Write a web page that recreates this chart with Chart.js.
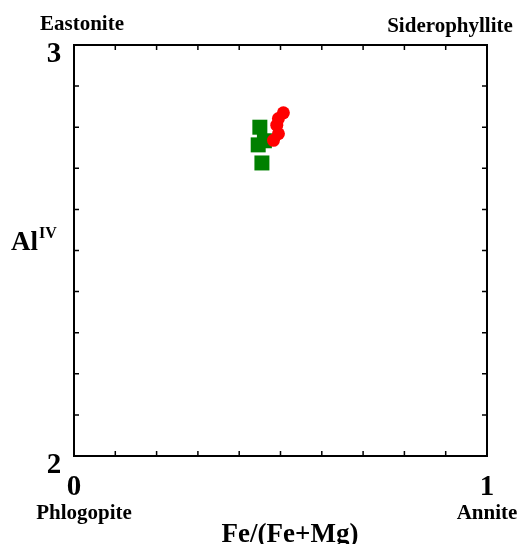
<!DOCTYPE html>
<html>
<head>
<meta charset="utf-8">
<script src="https://cdn.jsdelivr.net/npm/chart.js@4/dist/chart.umd.min.js"></script>
<style>
    html, body { margin: 0; padding: 0; background: #fff; }
    #wrap { width: 523px; height: 544px; }
</style>
</head>
<body>
<div id="wrap"><canvas id="chart" width="523" height="544"></canvas></div>
<script>
// Biotite classification data
const redFeRatio = [0.507, 0.495, 0.491, 0.495, 0.483];
const redAlIV = [2.835, 2.821, 2.805, 2.784, 2.768];
const greenFeRatio = [0.450, 0.446, 0.455, 0.461];
const greenAlIV = [2.800, 2.757, 2.713, 2.767];

const xTickValues = [0, 0.1, 0.2, 0.3, 0.4, 0.5, 0.6, 0.7, 0.8, 0.9, 1];
const yTickValues = [2, 2.1, 2.2, 2.3, 2.4, 2.5, 2.6, 2.7, 2.8, 2.9, 3];

const serif = '"Liberation Serif", "Times New Roman", serif';

// Inward tick marks, end labels and corner names
const decorPlugin = {
    id: 'decor',
    afterDraw(chart) {
        const ctx = chart.ctx;
        const xs = chart.scales.x, ys = chart.scales.y;
        const a = chart.chartArea;
        ctx.save();
        ctx.strokeStyle = '#000';
        ctx.lineWidth = 1.5;
        const len = 5;
        xTickValues.slice(1, -1).forEach(v => {
            const px = xs.getPixelForValue(v);
            ctx.beginPath();
            ctx.moveTo(px, a.top); ctx.lineTo(px, a.top + len);
            ctx.moveTo(px, a.bottom); ctx.lineTo(px, a.bottom - len);
            ctx.stroke();
        });
        yTickValues.slice(1, -1).forEach(v => {
            const py = ys.getPixelForValue(v);
            ctx.beginPath();
            ctx.moveTo(a.left, py); ctx.lineTo(a.left + len, py);
            ctx.moveTo(a.right, py); ctx.lineTo(a.right - len, py);
            ctx.stroke();
        });

        ctx.fillStyle = '#000';
        ctx.textAlign = 'center';
        ctx.textBaseline = 'alphabetic';

        // end values
        ctx.font = 'bold 29px ' + serif;
        ctx.fillText('3', 54, ys.getPixelForValue(3) + 17);
        ctx.fillText('2', 54, ys.getPixelForValue(2) + 17);
        ctx.fillText('0', xs.getPixelForValue(0), 495);
        ctx.fillText('1', xs.getPixelForValue(1), 495);

        // end-member names
        ctx.font = 'bold 21px ' + serif;
        ctx.fillText('Eastonite', 82, 30);
        ctx.fillText('Siderophyllite', 450, 32);
        ctx.fillText('Phlogopite', 84, 519);
        ctx.fillText('Annite', 487, 519);

        // axis titles
        ctx.font = 'bold 27px ' + serif;
        ctx.fillText('Fe/(Fe+Mg)', 290, 542);
        ctx.textAlign = 'left';
        ctx.font = 'bold 27px ' + serif;
        ctx.fillText('Al', 11, 250);
        const w = ctx.measureText('Al').width;
        ctx.font = 'bold 16px ' + serif;
        ctx.fillText('IV', 11 + w + 1, 238);
        ctx.restore();
    }
};

const hiddenAxis = (extra) => Object.assign({
    display: true,
    grid: { display: false, drawTicks: false },
    border: { display: true, color: '#000', width: 2 },
    ticks: { display: false }
}, extra);

new Chart(document.getElementById('chart'), {
    type: 'scatter',
    data: {
        datasets: [
            {
                label: 'red',
                data: redFeRatio.map((x, i) => ({ x, y: redAlIV[i] })),
                pointStyle: 'circle',
                pointRadius: 6.5,
                backgroundColor: '#ff0000',
                borderColor: '#ff0000',
                borderWidth: 0
            },
            {
                label: 'green',
                data: greenFeRatio.map((x, i) => ({ x, y: greenAlIV[i] })),
                pointStyle: 'rect',
                pointRadius: 10.6,
                backgroundColor: '#008000',
                borderColor: '#008000',
                borderWidth: 0
            }
        ]
    },
    options: {
        responsive: false,
        animation: false,
        layout: { padding: { left: 74, right: 36, top: 45, bottom: 88 } },
        plugins: { legend: { display: false }, tooltip: { enabled: false } },
        scales: {
            x: hiddenAxis({ type: 'linear', position: 'bottom', min: 0, max: 1 }),
            y: hiddenAxis({ type: 'linear', position: 'left', min: 2, max: 3 }),
            x2: hiddenAxis({ type: 'linear', position: 'top', min: 0, max: 1 }),
            y2: hiddenAxis({ type: 'linear', position: 'right', min: 2, max: 3 })
        }
    },
    plugins: [decorPlugin]
});
</script>
</body>
</html>
